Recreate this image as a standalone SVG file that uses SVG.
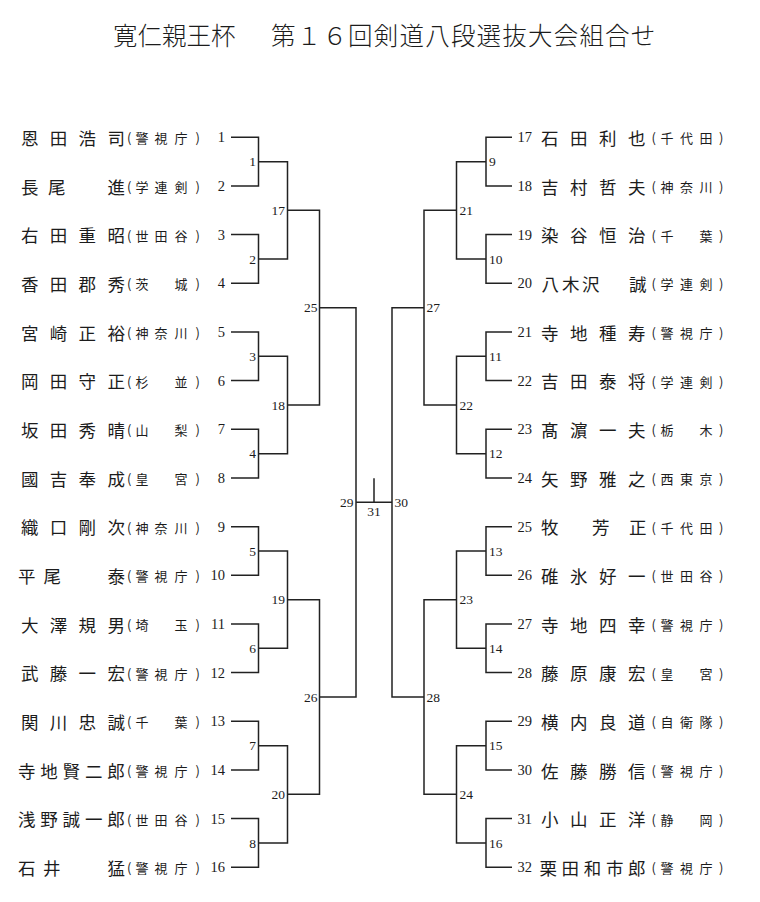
<svg xmlns="http://www.w3.org/2000/svg" width="760" height="902" viewBox="0 0 760 902">
<style>
text{fill:#1c1c1c}
.tt{font-family:"Noto Sans CJK JP","Noto Sans CJK SC",sans-serif;font-size:24.5px;font-weight:300}
.nm{font-family:"Noto Sans CJK JP","Noto Sans CJK SC",sans-serif;font-size:17.5px}
.af{font-family:"Noto Sans CJK JP","Noto Sans CJK SC",sans-serif;font-size:13px}
.no{font-family:"Liberation Serif",serif;font-size:14.5px}
.nl{text-anchor:end}
.lb{font-family:"Liberation Serif",serif;font-size:13.5px}
.le{text-anchor:end}
.mid{text-anchor:middle}
.ln{fill:none;stroke:#222;stroke-width:1.5}
</style>
<rect width="760" height="902" fill="#fff"/>
<text class="tt" y="45"><tspan x="113">寛仁親王杯　</tspan><tspan x="271" letter-spacing="1.2">第１６回剣道八段選抜大会組合せ</tspan></text>

<g id="connectors" class="ln">
<path d="M231 137.3H258.5V186H231M231 234.6H258.5V283.3H231M231 332H258.5V380.6H231M231 429.3H258.5V478H231M231 526.7H258.5V575.3H231M231 624H258.5V672.6H231M231 721.3H258.5V770H231M231 818.6H258.5V867.3H231"/>
<path d="M258.5 161.7H287.5V259H258.5M258.5 356.3H287.5V453.7H258.5M258.5 551H287.5V648.3H258.5M258.5 745.7H287.5V843H258.5"/>
<path d="M287.5 210.3H319.5V405H287.5M287.5 599.7H319.5V794.3H287.5"/>
<path d="M319.5 307.7H356V697H319.5"/>
<path d="M356 502.3H392M374 478.3V502.3"/>
<path d="M424 307.7H392V697H424"/>
<path d="M456.5 210.3H424V405H456.5M456.5 599.7H424V794.3H456.5"/>
<path d="M486 161.7H456.5V259H486M486 356.3H456.5V453.7H486M486 551H456.5V648.3H486M486 745.7H456.5V843H486"/>
<path d="M512 137.3H486V186H512M512 234.6H486V283.3H512M512 332H486V380.6H512M512 429.3H486V478H512M512 526.7H486V575.3H512M512 624H486V672.6H512M512 721.3H486V770H512M512 818.6H486V867.3H512"/>
</g>

<g id="match-labels" class="lb">
<g id="m1"><text class="le" x="256" y="166.4">1</text></g>
<g id="m2"><text class="le" x="256" y="263.7">2</text></g>
<g id="m3"><text class="le" x="256" y="361">3</text></g>
<g id="m4"><text class="le" x="256" y="458.4">4</text></g>
<g id="m5"><text class="le" x="256" y="555.7">5</text></g>
<g id="m6"><text class="le" x="256" y="653">6</text></g>
<g id="m7"><text class="le" x="256" y="750.4">7</text></g>
<g id="m8"><text class="le" x="256" y="847.7">8</text></g>
<g id="m9"><text x="489" y="166.4">9</text></g>
<g id="m10"><text x="489" y="263.7">10</text></g>
<g id="m11"><text x="489" y="361">11</text></g>
<g id="m12"><text x="489" y="458.4">12</text></g>
<g id="m13"><text x="489" y="555.7">13</text></g>
<g id="m14"><text x="489" y="653">14</text></g>
<g id="m15"><text x="489" y="750.4">15</text></g>
<g id="m16"><text x="489" y="847.7">16</text></g>
<g id="m17"><text class="le" x="285" y="215">17</text></g>
<g id="m18"><text class="le" x="285" y="409.7">18</text></g>
<g id="m19"><text class="le" x="285" y="604.4">19</text></g>
<g id="m20"><text class="le" x="285" y="799">20</text></g>
<g id="m21"><text x="459.5" y="215">21</text></g>
<g id="m22"><text x="459.5" y="409.7">22</text></g>
<g id="m23"><text x="459.5" y="604.4">23</text></g>
<g id="m24"><text x="459.5" y="799">24</text></g>
<g id="m25"><text class="le" x="317.5" y="312.4">25</text></g>
<g id="m26"><text class="le" x="317.5" y="701.7">26</text></g>
<g id="m27"><text x="426.5" y="312.4">27</text></g>
<g id="m28"><text x="426.5" y="701.7">28</text></g>
<g id="m29"><text class="le" x="353.5" y="507">29</text></g>
<g id="m30"><text x="394.5" y="507">30</text></g>
<g id="m31"><text class="mid" x="374" y="515.5">31</text></g>
</g>

<g id="p1" transform="translate(0,137.3)"><text class="nm" x="21 49.8 78.6 107.4" y="7.5">恩田浩司</text><text class="af" x="127 135.5 154.5 174.5 195.5" y="6">(警視庁)</text><text class="no nl" x="225" y="5">1</text></g>
<g id="p2" transform="translate(0,186)"><text class="nm" x="21 48 107.4" y="7.5">長尾進</text><text class="af" x="127 135.5 154.5 174.5 195.5" y="6">(学連剣)</text><text class="no nl" x="225" y="5">2</text></g>
<g id="p3" transform="translate(0,234.6)"><text class="nm" x="21 49.8 78.6 107.4" y="7.5">右田重昭</text><text class="af" x="127 135.5 154.5 174.5 195.5" y="6">(世田谷)</text><text class="no nl" x="225" y="5">3</text></g>
<g id="p4" transform="translate(0,283.3)"><text class="nm" x="21 49.8 78.6 107.4" y="7.5">香田郡秀</text><text class="af" x="127 135.5 174.5 195.5" y="6">(茨城)</text><text class="no nl" x="225" y="5">4</text></g>
<g id="p5" transform="translate(0,332)"><text class="nm" x="21 49.8 78.6 107.4" y="7.5">宮崎正裕</text><text class="af" x="127 135.5 154.5 174.5 195.5" y="6">(神奈川)</text><text class="no nl" x="225" y="5">5</text></g>
<g id="p6" transform="translate(0,380.6)"><text class="nm" x="21 49.8 78.6 107.4" y="7.5">岡田守正</text><text class="af" x="127 135.5 174.5 195.5" y="6">(杉並)</text><text class="no nl" x="225" y="5">6</text></g>
<g id="p7" transform="translate(0,429.3)"><text class="nm" x="21 49.8 78.6 107.4" y="7.5">坂田秀晴</text><text class="af" x="127 135.5 174.5 195.5" y="6">(山梨)</text><text class="no nl" x="225" y="5">7</text></g>
<g id="p8" transform="translate(0,478)"><text class="nm" x="21 49.8 78.6 107.4" y="7.5">國吉奉成</text><text class="af" x="127 135.5 174.5 195.5" y="6">(皇宮)</text><text class="no nl" x="225" y="5">8</text></g>
<g id="p9" transform="translate(0,526.7)"><text class="nm" x="21 49.8 78.6 107.4" y="7.5">織口剛次</text><text class="af" x="127 135.5 154.5 174.5 195.5" y="6">(神奈川)</text><text class="no nl" x="225" y="5">9</text></g>
<g id="p10" transform="translate(0,575.3)"><text class="nm" x="18 43.5 107.4" y="7.5">平尾泰</text><text class="af" x="127 135.5 154.5 174.5 195.5" y="6">(警視庁)</text><text class="no nl" x="225" y="5">10</text></g>
<g id="p11" transform="translate(0,624)"><text class="nm" x="21 49.8 78.6 107.4" y="7.5">大澤規男</text><text class="af" x="127 135.5 174.5 195.5" y="6">(埼玉)</text><text class="no nl" x="225" y="5">11</text></g>
<g id="p12" transform="translate(0,672.6)"><text class="nm" x="21 49.8 78.6 107.4" y="7.5">武藤一宏</text><text class="af" x="127 135.5 154.5 174.5 195.5" y="6">(警視庁)</text><text class="no nl" x="225" y="5">12</text></g>
<g id="p13" transform="translate(0,721.3)"><text class="nm" x="21 49.8 78.6 107.4" y="7.5">関川忠誠</text><text class="af" x="127 135.5 174.5 195.5" y="6">(千葉)</text><text class="no nl" x="225" y="5">13</text></g>
<g id="p14" transform="translate(0,770)"><text class="nm" x="18 40.3 62.6 84.9 107.2" y="7.5">寺地賢二郎</text><text class="af" x="127 135.5 154.5 174.5 195.5" y="6">(警視庁)</text><text class="no nl" x="225" y="5">14</text></g>
<g id="p15" transform="translate(0,818.6)"><text class="nm" x="18 40.3 62.6 84.9 107.2" y="7.5">浅野誠一郎</text><text class="af" x="127 135.5 154.5 174.5 195.5" y="6">(世田谷)</text><text class="no nl" x="225" y="5">15</text></g>
<g id="p16" transform="translate(0,867.3)"><text class="nm" x="18 43 107.4" y="7.5">石井猛</text><text class="af" x="127 135.5 154.5 174.5 195.5" y="6">(警視庁)</text><text class="no nl" x="225" y="5">16</text></g>

<g id="p17" transform="translate(0,137.3)"><text class="no" x="517.5" y="5">17</text><text class="nm" x="541 570 599 628" y="7.5">石田利也</text><text class="af" x="651.5 660.5 680 699.5 719" y="6">(千代田)</text></g>
<g id="p18" transform="translate(0,186)"><text class="no" x="517.5" y="5">18</text><text class="nm" x="541 570 599 628" y="7.5">吉村哲夫</text><text class="af" x="651.5 660.5 680 699.5 719" y="6">(神奈川)</text></g>
<g id="p19" transform="translate(0,234.6)"><text class="no" x="517.5" y="5">19</text><text class="nm" x="541 570 599 628" y="7.5">染谷恒治</text><text class="af" x="651.5 660.5 699.5 719" y="6">(千葉)</text></g>
<g id="p20" transform="translate(0,283.3)"><text class="no" x="517.5" y="5">20</text><text class="nm" x="541.5 562 582 629" y="7.5">八木沢誠</text><text class="af" x="651.5 660.5 680 699.5 719" y="6">(学連剣)</text></g>
<g id="p21" transform="translate(0,332)"><text class="no" x="517.5" y="5">21</text><text class="nm" x="541 570 599 628" y="7.5">寺地種寿</text><text class="af" x="651.5 660.5 680 699.5 719" y="6">(警視庁)</text></g>
<g id="p22" transform="translate(0,380.6)"><text class="no" x="517.5" y="5">22</text><text class="nm" x="541 570 599 628" y="7.5">吉田泰将</text><text class="af" x="651.5 660.5 680 699.5 719" y="6">(学連剣)</text></g>
<g id="p23" transform="translate(0,429.3)"><text class="no" x="517.5" y="5">23</text><text class="nm" x="541 570 599 628" y="7.5">髙濵一夫</text><text class="af" x="651.5 660.5 699.5 719" y="6">(栃木)</text></g>
<g id="p24" transform="translate(0,478)"><text class="no" x="517.5" y="5">24</text><text class="nm" x="541 570 599 628" y="7.5">矢野雅之</text><text class="af" x="651.5 660.5 680 699.5 719" y="6">(西東京)</text></g>
<g id="p25" transform="translate(0,526.7)"><text class="no" x="517.5" y="5">25</text><text class="nm" x="541 592 629" y="7.5">牧芳正</text><text class="af" x="651.5 660.5 680 699.5 719" y="6">(千代田)</text></g>
<g id="p26" transform="translate(0,575.3)"><text class="no" x="517.5" y="5">26</text><text class="nm" x="541 570 599 628" y="7.5">碓氷好一</text><text class="af" x="651.5 660.5 680 699.5 719" y="6">(世田谷)</text></g>
<g id="p27" transform="translate(0,624)"><text class="no" x="517.5" y="5">27</text><text class="nm" x="541 570 599 628" y="7.5">寺地四幸</text><text class="af" x="651.5 660.5 680 699.5 719" y="6">(警視庁)</text></g>
<g id="p28" transform="translate(0,672.6)"><text class="no" x="517.5" y="5">28</text><text class="nm" x="541 570 599 628" y="7.5">藤原康宏</text><text class="af" x="651.5 660.5 699.5 719" y="6">(皇宮)</text></g>
<g id="p29" transform="translate(0,721.3)"><text class="no" x="517.5" y="5">29</text><text class="nm" x="541 570 599 628" y="7.5">横内良道</text><text class="af" x="651.5 660.5 680 699.5 719" y="6">(自衛隊)</text></g>
<g id="p30" transform="translate(0,770)"><text class="no" x="517.5" y="5">30</text><text class="nm" x="541 570 599 628" y="7.5">佐藤勝信</text><text class="af" x="651.5 660.5 680 699.5 719" y="6">(警視庁)</text></g>
<g id="p31" transform="translate(0,818.6)"><text class="no" x="517.5" y="5">31</text><text class="nm" x="541 570 599 628" y="7.5">小山正洋</text><text class="af" x="651.5 660.5 699.5 719" y="6">(静岡)</text></g>
<g id="p32" transform="translate(0,867.3)"><text class="no" x="517.5" y="5">32</text><text class="nm" x="539.5 561.6 583.8 605.9 628" y="7.5">栗田和市郎</text><text class="af" x="651.5 660.5 680 699.5 719" y="6">(警視庁)</text></g>
</svg>
